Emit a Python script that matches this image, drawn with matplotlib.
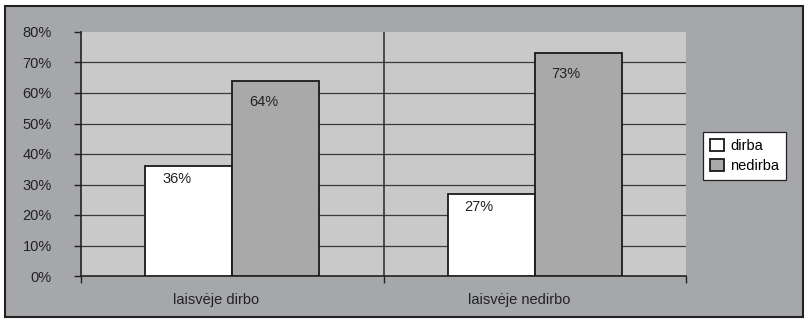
import matplotlib
matplotlib.use('Agg')

import numpy as np
import matplotlib.pyplot as plt
import matplotlib.transforms as mtransforms
from matplotlib.patches import Rectangle

# data
categories = ["laisvėje dirbo", "laisvėje nedirbo"]
series_names = ["dirba", "nedirba"]
dirba = [36, 27]
nedirba = [64, 73]
y_ticks = [0, 10, 20, 30, 40, 50, 60, 70, 80]

plt.rcParams['font.family'] = ['Liberation Sans', 'DejaVu Sans']
plt.rcParams['font.size'] = 10.5

fig_bg = "#a6a7aa"
plot_bg = "#c9c9ca"
bar_gray = "#a9a9aa"

fig = plt.figure(figsize=(8.08, 3.21), dpi=100, facecolor="white")
# chart area background + border
bg = Rectangle((5 / 808, 4 / 321), 1 - 10 / 808, 1 - 10 / 321,
               transform=fig.transFigure, facecolor=fig_bg,
               edgecolor="#222222", linewidth=1.5, zorder=-10)
fig.patches.append(bg)

ax = fig.add_axes([81 / 808, 1 - 276 / 321, (686 - 81) / 808, (276 - 32) / 321])
ax.set_facecolor(plot_bg)

x = np.arange(len(categories))
w = 0.2876
b1 = ax.bar(x - w / 2, dirba, w, color="white", edgecolor="#1a1a1a", linewidth=1.3, zorder=3, label=series_names[0])
b2 = ax.bar(x + w / 2, nedirba, w, color=bar_gray, edgecolor="#1a1a1a", linewidth=1.3, zorder=3, label=series_names[1])

# data labels
for bars, vals, dy in [(b1, dirba, -13), (b2, nedirba, -21)]:
    for rect, v in zip(bars, vals):
        ax.annotate(f"{v}%", (rect.get_x() + rect.get_width() / 2, v),
                    xytext=(-12, dy), textcoords="offset pixels",
                    ha="center", va="center", fontsize=10.5, color="#222222", zorder=4)

ax.set_xlim(-0.5, 1.5)
ax.set_ylim(0, 80)
ax.set_yticks(y_ticks)
ax.set_yticklabels([f"{t}%" for t in y_ticks])
for t in y_ticks[1:-1]:
    ax.axhline(t, color="#3a3a3a", linewidth=0.9, zorder=1)
ax.axvline(0.5, color="#333333", linewidth=1.2, zorder=1)

ax.set_xticks(x)
ax.set_xticklabels(categories)
ax.set_xticks([-0.5, 0.5, 1.5], minor=True)
ax.tick_params(axis="x", which="major", length=0, pad=12.5, labelsize=10.5, colors="#222222")
ax.tick_params(axis="x", which="minor", length=5, width=1, color="#222222")
ax.tick_params(axis="y", length=5, width=1, pad=16, labelsize=10.5, colors="#222222")

# Excel text sits a little left of center
shift = mtransforms.ScaledTranslation(-16 / 100, 0, fig.dpi_scale_trans)
for lab in ax.get_xticklabels():
    lab.set_transform(lab.get_transform() + shift)

for s in ["top", "right"]:
    ax.spines[s].set_visible(False)
for s in ["left", "bottom"]:
    ax.spines[s].set_color("#222222")
    ax.spines[s].set_linewidth(1.2)

leg = fig.legend(handles=[b1, b2], labels=series_names, loc="upper left",
                 bbox_to_anchor=(703 / 808, 1 - 132 / 321), bbox_transform=fig.transFigure,
                 fancybox=False, framealpha=1, edgecolor="#222222", facecolor="white",
                 handlelength=1.0, handleheight=0.9, handletextpad=0.4,
                 borderpad=0.45, labelspacing=0.45, borderaxespad=0, fontsize=10.5)
leg.get_frame().set_linewidth(0.9)

fig.savefig("out.png", dpi=100, facecolor=fig.get_facecolor())
